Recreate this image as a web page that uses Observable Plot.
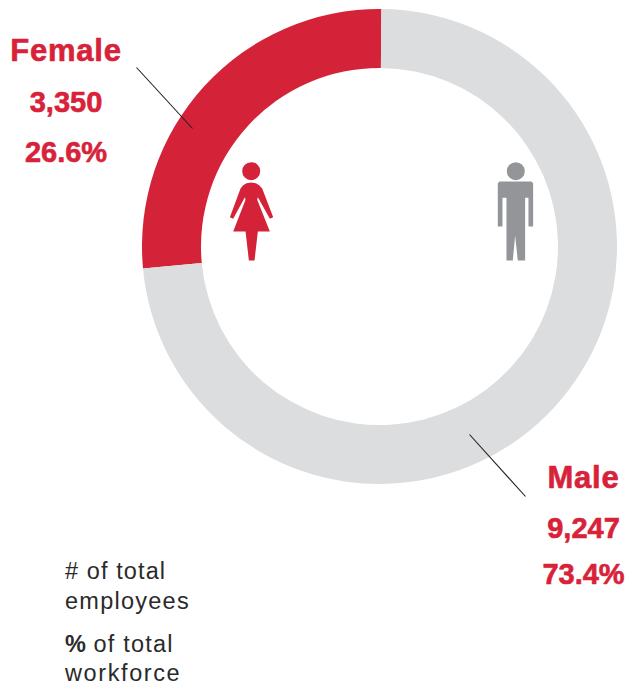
<!DOCTYPE html>
<html>
<head>
<meta charset="utf-8">
<script src="https://cdn.jsdelivr.net/npm/d3@7"></script>
<script src="https://cdn.jsdelivr.net/npm/@observablehq/plot@0.6"></script>
<style>
  html, body { margin: 0; padding: 0; background: #fff; }
  svg { display: block; }
</style>
</head>
<body>
<div id="chart"></div>
<script>
// Data
const genders = ["Female", "Male"];
const employees = [3350, 9247];
const sharesPct = [26.6, 73.4];
const ringColors = ["#d42339", "#dcddde"];
const iconColors = ["#d42339", "#939598"];
const legendLines = ["# of total", "employees", "% of total", "workforce"];

// Layout (in the chart's pixel coordinate frame)
const W = 626, H = 686;
const cx = 379.5, cy = 246.5, outerR = 237.5, innerR = 178.5, seamDeg = 0.45;
const labelX = [65.5, 583], nameY = [60.5, 487.5], countY = [111, 537.5], shareY = [161.5, 583];
const leaderFrom = [[136, 67], [469, 434]], leaderTo = [[192, 128], [525, 496]];
const iconX = [250.7, 515.3], iconY = [210, 210];

const RED = "#d82239", INK = "#2a2a2b", SANS = "'Liberation Sans', Arial, sans-serif";

// Icon outlines, unit = 1/3 px, centred on the dot
function poly(ctx, pts, s) {
  pts.forEach(([a, b], i) => (i ? ctx.lineTo(a * s, b * s) : ctx.moveTo(a * s, b * s)));
  ctx.closePath();
}
const scaleOf = size => Math.sqrt(size / Math.PI) / 10 / 3;
const womanSymbol = {
  draw(ctx, size) {
    const s = scaleOf(size);
    ctx.moveTo(27 * s, -118 * s); ctx.arc(0, -118 * s, 27 * s, 0, 2 * Math.PI);
    poly(ctx, [[0,-84],[14,-82],[24,-76],[33,-66],[66,20],[56,25],[20,-40],[18,-32],[56,63],[-54,63],[-17,-32],[-19,-40],[-54,25],[-64,20],[-32,-66],[-24,-76],[-14,-82]], s);
    poly(ctx, [[-17,62],[20,62],[10,150],[-7,150]], s);
  }
};
const manSymbol = {
  draw(ctx, size) {
    const s = scaleOf(size);
    ctx.moveTo(27 * s, -118 * s); ctx.arc(0, -118 * s, 27 * s, 0, 2 * Math.PI);
    poly(ctx, [[-49,-87],[47,-87],[52,-82],[52,48],[38,48],[38,-38],[28,-38],[28,150],[6,150],[-2,75],[-9,150],[-28,150],[-28,-38],[-40,-38],[-40,48],[-54,48],[-54,-82]], s);
  }
};

// Ring mark: pie layout of the counts, positioned through Plot's x/y scales
function ring(index, {x, y}) {
  const total = d3.sum(employees);
  const start = (seamDeg * Math.PI) / 180 - (employees[0] / total) * 2 * Math.PI;
  const slices = d3.pie().sort(null).startAngle(start).endAngle(start + 2 * Math.PI)(employees);
  const px = x(cx), py = y(cy);
  const arc = d3.arc().innerRadius(x(cx + innerR) - px).outerRadius(x(cx + outerR) - px);
  const g = d3.create("svg:g").attr("transform", `translate(${px},${py})`);
  g.selectAll("path").data(slices).join("path")
    .attr("d", arc).attr("fill", (d, i) => ringColors[i]);
  return g.node();
}

const spaced = px => (index, scales, values, dims, ctx, next) => {
  const g = next(index, scales, values, dims, ctx);
  g.style.letterSpacing = px;
  return g;
};

const idx = d3.range(genders.length);
const fmtCount = d3.format(",");
const bold = {fontFamily: SANS, fontWeight: 700, fontSize: 29, fill: RED, stroke: RED, strokeWidth: 0.6, textAnchor: "middle", lineAnchor: "bottom"};
const plain = {fontFamily: SANS, fontWeight: 400, fontSize: 23.5, fill: INK, textAnchor: "start", lineAnchor: "bottom"};

const chart = Plot.plot({
  width: W, height: H,
  margin: 0,
  x: {domain: [0, W], range: [0, W], axis: null},
  y: {domain: [0, H], range: [0, H], axis: null},
  style: {background: "#fff"},
  marks: [
    ring,
    Plot.link(idx, {
      x1: i => leaderFrom[i][0], y1: i => leaderFrom[i][1],
      x2: i => leaderTo[i][0], y2: i => leaderTo[i][1],
      stroke: "#231f20", strokeWidth: 1.1
    }),
    Plot.dot([0], {x: i => iconX[i], y: i => iconY[i], r: 10, symbol: womanSymbol, fill: iconColors[0], stroke: "none"}),
    Plot.dot([1], {x: i => iconX[i], y: i => iconY[i], r: 10, symbol: manSymbol, fill: iconColors[1], stroke: "none"}),
    Plot.text(idx, {...bold, fontSize: 31, x: i => labelX[i], y: i => nameY[i], text: i => genders[i], render: spaced("0.8px")}),
    Plot.text(idx, {...bold, x: i => labelX[i], y: i => countY[i], text: i => fmtCount(employees[i])}),
    Plot.text(idx, {...bold, x: i => labelX[i], y: i => shareY[i], text: i => sharesPct[i].toFixed(1) + "%"}),
    Plot.text([legendLines[0]], {...plain, x: 64.5, y: 578, text: d => d, render: spaced("1.1px")}),
    Plot.text([legendLines[1]], {...plain, x: 64.5, y: 608, text: d => d, render: spaced("1.25px")}),
    Plot.text(["%"], {...plain, fontWeight: 700, x: 64.5, y: 651, text: d => d}),
    Plot.text([legendLines[2].slice(2)], {...plain, x: 93, y: 651, text: d => d, render: spaced("1.2px")}),
    Plot.text([legendLines[3]], {...plain, x: 64.5, y: 680, text: d => d, render: spaced("1.6px")})
  ]
});
document.getElementById("chart").append(chart);
</script>
</body>
</html>
